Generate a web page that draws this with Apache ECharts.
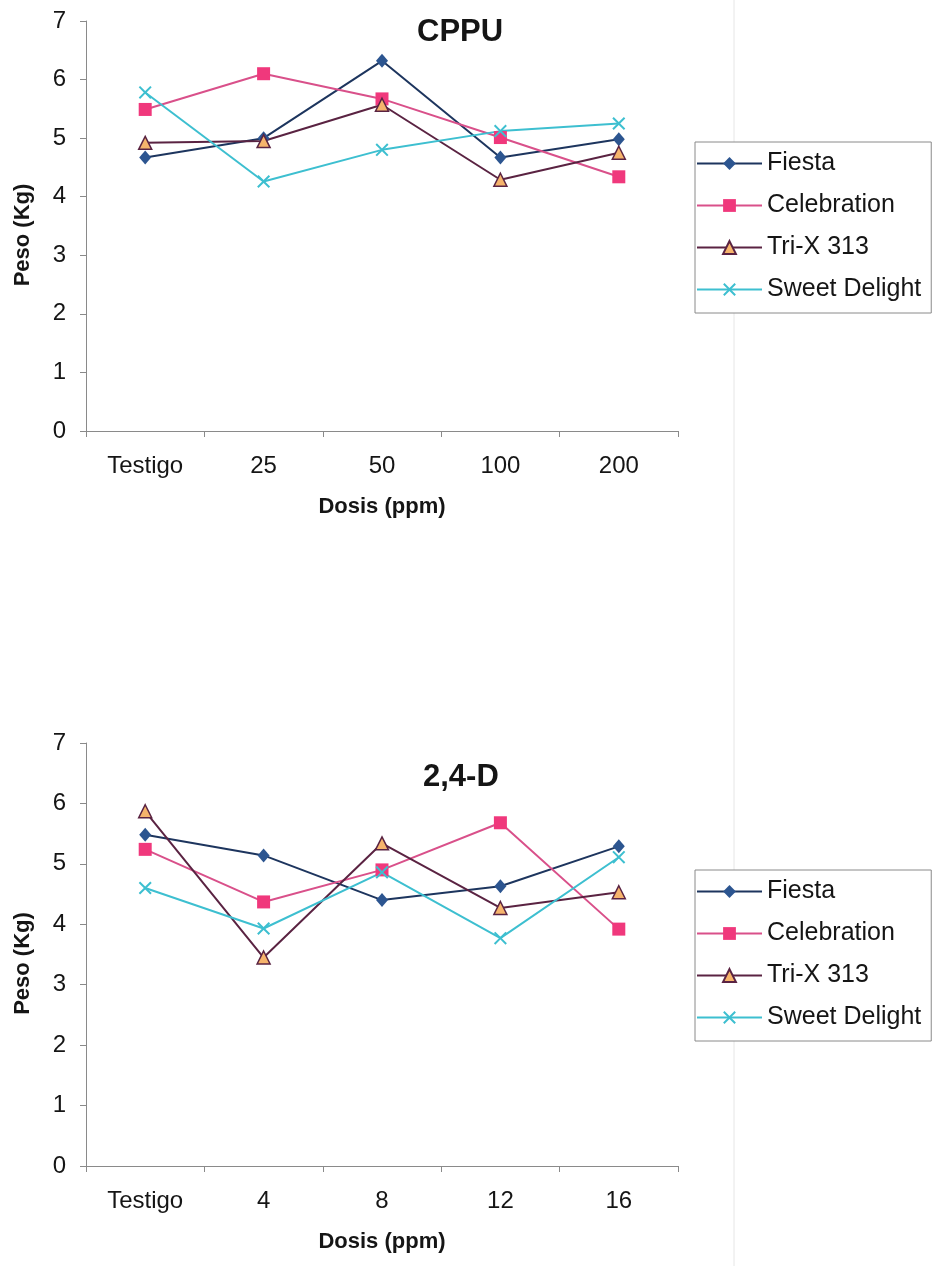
<!DOCTYPE html>
<html>
<head>
<meta charset="utf-8">
<script src="https://cdn.jsdelivr.net/npm/echarts@6/dist/echarts.min.js"></script>
<style>
html,body{margin:0;padding:0;background:#fff;}
#chart{width:935px;height:1266px;}
</style>
</head>
<body>
<div id="chart"></div>
<script>
// ---------- Data ----------
const seriesNames = ['Fiesta', 'Celebration', 'Tri-X 313', 'Sweet Delight'];
const yTicks = [0, 1, 2, 3, 4, 5, 6, 7];

// Chart 1: CPPU
const cppuTitle = 'CPPU';
const cppuDoses = ['Testigo', '25', '50', '100', '200'];
const cppuFiesta       = [4.67, 5.00, 6.32, 4.67, 4.98];
const cppuCelebration  = [5.49, 6.10, 5.67, 5.01, 4.34];
const cppuTriX         = [4.92, 4.95, 5.57, 4.29, 4.75];
const cppuSweetDelight = [5.78, 4.26, 4.80, 5.12, 5.25];

// Chart 2: 2,4-D
const dTitle = '2,4-D';
const dDoses = ['Testigo', '4', '8', '12', '16'];
const dFiesta       = [5.48, 5.14, 4.40, 4.63, 5.29];
const dCelebration  = [5.24, 4.37, 4.90, 5.68, 3.92];
const dTriX         = [5.87, 3.45, 5.34, 4.27, 4.53];
const dSweetDelight = [4.60, 3.93, 4.86, 3.77, 5.11];

const xName = 'Dosis (ppm)';
const yName = 'Peso (Kg)';

// ---------- Styles ----------
const FONT = '"Liberation Sans", Arial, Helvetica, sans-serif';
const AXIS_COLOR = '#8a8a8a';
const TEXT_COLOR = '#151515';
const X_SYMBOL = 'path://M0,1.3L1.3,0L6,4.7L10.7,0L12,1.3L7.3,6L12,10.7L10.7,12L6,7.3L1.3,12L0,10.7L4.7,6Z';

const styles = {
  'Fiesta':        { line: '#1d355e', fill: '#2c5590', border: '#1f3a66', symbol: 'diamond', size: [12, 14] },
  'Celebration':   { line: '#d9508a', fill: '#f0387c', border: '#e0357a', symbol: 'rect', size: 13 },
  'Tri-X 313':     { line: '#5a2342', fill: '#f6b46c', border: '#5a2342', symbol: 'triangle', size: 13 },
  'Sweet Delight': { line: '#3dbfd0', fill: '#3dbfd0', border: '#3dbfd0', symbol: X_SYMBOL, size: 13 }
};

function mkSeries(name, data, idx) {
  const s = styles[name];
  return {
    name: name,
    type: 'line',
    xAxisIndex: idx,
    yAxisIndex: idx,
    data: data,
    symbol: s.symbol,
    symbolSize: s.size,
    showAllSymbol: true,
    lineStyle: { color: s.line, width: 2 },
    itemStyle: { color: s.fill, borderColor: s.border, borderWidth: name === 'Tri-X 313' ? 1.5 : 0, opacity: 1 },
    emphasis: { disabled: true },
    animation: false,
    z: 3
  };
}

function mkXAxis(cats, idx) {
  return {
    type: 'category',
    gridIndex: idx,
    data: cats,
    boundaryGap: true,
    name: xName,
    nameLocation: 'middle',
    nameGap: 65,
    nameTextStyle: { fontFamily: FONT, fontSize: 22, fontWeight: 'bold', color: TEXT_COLOR },
    axisLine: { show: true, lineStyle: { color: AXIS_COLOR, width: 1 } },
    axisTick: { show: true, length: 6, inside: false, lineStyle: { color: AXIS_COLOR } },
    axisLabel: { fontFamily: FONT, fontSize: 24, color: TEXT_COLOR, margin: 23 },
    splitLine: { show: false }
  };
}

function mkYAxis(idx) {
  return {
    type: 'value',
    gridIndex: idx,
    min: yTicks[0],
    max: yTicks[yTicks.length - 1],
    interval: 1,
    name: yName,
    nameLocation: 'middle',
    nameGap: 52,
    nameTextStyle: { fontFamily: FONT, fontSize: 22, fontWeight: 'bold', color: TEXT_COLOR, padding: [0, 18, 0, 0] },
    axisLine: { show: true, lineStyle: { color: AXIS_COLOR, width: 1 } },
    axisTick: { show: true, length: 6, inside: false, lineStyle: { color: AXIS_COLOR } },
    axisLabel: { fontFamily: FONT, fontSize: 24, color: TEXT_COLOR, margin: 20 },
    splitLine: { show: false }
  };
}

function mkLegend(top) {
  return {
    orient: 'vertical',
    left: 695,
    top: top,
    data: seriesNames,
    itemWidth: 65,
    itemHeight: 16,
    itemGap: 17,
    padding: [9, 10, 11, 1],
    borderColor: '#8a8a8a',
    borderWidth: 1,
    backgroundColor: '#ffffff',
    selectedMode: false,
    textStyle: { fontFamily: FONT, fontSize: 25, color: TEXT_COLOR, padding: [0, 0, 0, 0] }
  };
}

const option = {
  animation: false,
  backgroundColor: '#ffffff',
  title: [
    { text: cppuTitle, left: 417, top: 17, padding: 0,
      textStyle: { fontFamily: FONT, fontSize: 31, fontWeight: 'bold', color: TEXT_COLOR } },
    { text: dTitle, left: 423, top: 762, padding: 0,
      textStyle: { fontFamily: FONT, fontSize: 31, fontWeight: 'bold', color: TEXT_COLOR } }
  ],
  legend: [mkLegend(142), mkLegend(870)],
  grid: [
    { left: 86, top: 21, width: 592, height: 410, containLabel: false },
    { left: 86, top: 743, width: 592, height: 423, containLabel: false }
  ],
  xAxis: [mkXAxis(cppuDoses, 0), mkXAxis(dDoses, 1)],
  yAxis: [mkYAxis(0), mkYAxis(1)],
  graphic: [
    { type: 'line', shape: { x1: 734, y1: 0, x2: 734, y2: 1266 }, style: { stroke: '#e6e6e6', lineWidth: 1 }, z: -1, silent: true }
  ],
  series: [
    mkSeries('Fiesta', cppuFiesta, 0),
    mkSeries('Celebration', cppuCelebration, 0),
    mkSeries('Tri-X 313', cppuTriX, 0),
    mkSeries('Sweet Delight', cppuSweetDelight, 0),
    mkSeries('Fiesta', dFiesta, 1),
    mkSeries('Celebration', dCelebration, 1),
    mkSeries('Tri-X 313', dTriX, 1),
    mkSeries('Sweet Delight', dSweetDelight, 1)
  ]
};

const chart = echarts.init(document.getElementById('chart'), null, { renderer: 'canvas' });
chart.setOption(option);
</script>
</body>
</html>
